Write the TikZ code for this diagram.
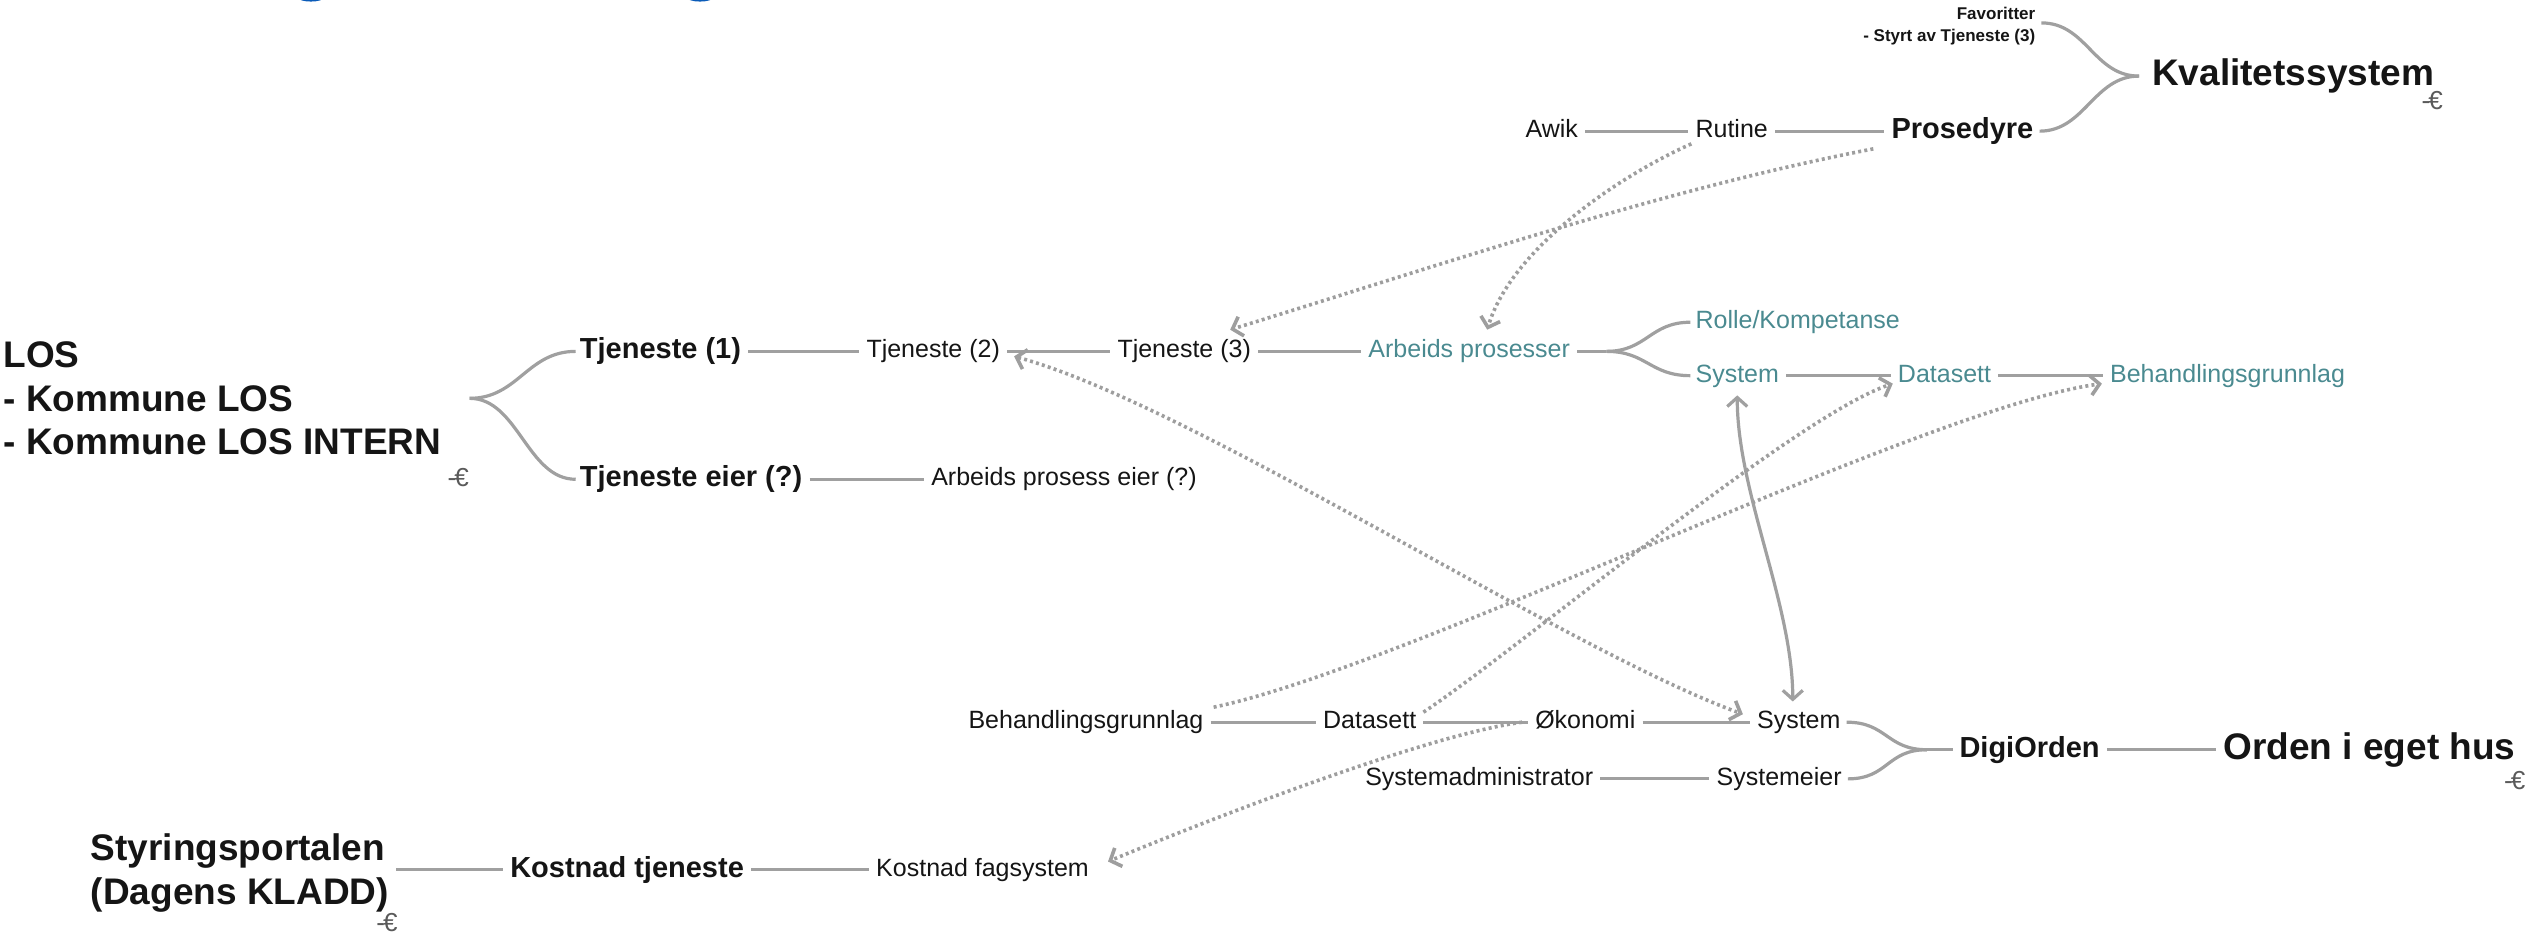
\documentclass[tikz,border=0pt]{standalone}
\usepackage{fontspec}
\setmainfont{Liberation Sans}
\usetikzlibrary{arrows.meta}
\definecolor{txt}{HTML}{151515}
\definecolor{tealc}{HTML}{4A8A90}
\definecolor{lc}{HTML}{A0A0A0}
\definecolor{dc}{HTML}{9E9E9E}
\definecolor{bluet}{HTML}{0A5BB8}
\definecolor{foldc}{HTML}{5A5A5A}
\tikzset{
  nd/.style={inner sep=0pt, anchor=west},
  reg/.style={nd, font=\fontsize{25}{30}\selectfont, text=txt, text height=18pt, text depth=5pt},
  tl/.style={reg, text=tealc},
  mid/.style={nd, font=\bfseries\fontsize{29}{34}\selectfont, text=txt, text height=21pt, text depth=6pt},
  big/.style={nd, align=left, font=\bfseries\fontsize{37}{43.5}\selectfont, text=txt},
  fav/.style={inner sep=0pt, anchor=east, align=right, font=\bfseries\fontsize{17}{22}\selectfont, text=txt},
  fold/.style={inner sep=0pt, font=\fontsize{26}{26}\selectfont, text=foldc},
  tree/.style={draw=lc, line width=3.2pt},
  gap/.style={shorten <=7pt, shorten >=7pt},
  rel/.style={draw=dc, line width=3.6pt, dash pattern=on 3pt off 3.2pt,
    -{Straight Barb[length=9pt,width=20pt]}},
  reltwo/.style={draw=dc, line width=3.6pt, dash pattern=on 3pt off 3.2pt,
    {Straight Barb[length=9pt,width=20pt]}-{Straight Barb[length=9pt,width=20pt]}},
  solidtwo/.style={tree, {Straight Barb[length=9pt,width=20pt]}-{Straight Barb[length=9pt,width=20pt]}}
}
\begin{document}
\begin{tikzpicture}[x=1.61926pt, y=-1.61926pt]
\useasboundingbox (0,0) rectangle (1568,576.2);
% cut-off title remnants
\fill[bluet] (192,-1.5) ellipse [x radius=13pt, y radius=4pt];
\fill[bluet] (432.3,-1.5) ellipse [x radius=13pt, y radius=4pt];

% nodes
\node[big] (los) at (2,246) {LOS\\- Kommune LOS\\- Kommune LOS INTERN};
\node[mid] (t1) at (358,217) {Tjeneste (1)};
\node[mid] (teier) at (358,296) {Tjeneste eier (?)};
\node[reg] (t2) at (535,217) {Tjeneste (2)};
\node[reg] (t3) at (690,217) {Tjeneste (3)};
\node[tl] (ap) at (845,217) {Arbeids prosesser};
\node[tl] (rk) at (1047,199) {Rolle/Kompetanse};
\node[tl] (syst) at (1047,232) {System};
\node[tl] (dst) at (1172,232) {Datasett};
\node[tl] (bgt) at (1303,232) {Behandlingsgrunnlag};
\node[reg] (ape) at (575,296) {Arbeids prosess eier (?)};
\node[reg] (awik) at (942,81) {Awik};
\node[reg] (rut) at (1047,81) {Rutine};
\node[mid] (pros) at (1168,81) {Prosedyre};
\node[fav] (fav) at (1257,16) {Favoritter\\- Styrt av Tjeneste (3)};
\node[big] (kval) at (1329,47) {Kvalitetssystem};
\node[reg] (bgb) at (598,446) {Behandlingsgrunnlag};
\node[reg] (dsb) at (817,446) {Datasett};
\node[reg] (oko) at (948,446) {Økonomi};
\node[reg] (sysb) at (1085,446) {System};
\node[reg] (sadm) at (843,481) {Systemadministrator};
\node[reg] (seier) at (1060,481) {Systemeier};
\node[mid] (digi) at (1210,463) {DigiOrden};
\node[big] (orden) at (1373,463) {Orden i eget hus};
\node[big] (styr) at (56,539) {Styringsportalen\\(Dagens KLADD)};
\node[mid] (kt) at (315,537) {Kostnad tjeneste};
\node[reg] (kf) at (541,537) {Kostnad fagsystem};

% fold marks
\node[fold] (f1) at (1502,62) {-\kern-2pt€};
\node[fold] (f2) at (283,295) {-\kern-2pt€};
\node[fold] (f3) at (1553,482) {-\kern-2pt€};
\node[fold] (f4) at (239,570) {-\kern-2pt€};

% tree lines
\draw[tree,gap] (t1.east) -- (t2.west);
\draw[tree,gap] (t2.east) -- (t3.west);
\draw[tree,gap] (t3.east) -- (ap.west);
\draw[tree,gap] (syst.east) -- (dst.west);
\draw[tree,gap] (dst.east) -- (bgt.west);
\draw[tree,gap] (teier.east) -- (ape.west);
\draw[tree,gap] (awik.east) -- (rut.west);
\draw[tree,gap] (rut.east) -- (pros.west);
\draw[tree,gap] (bgb.east) -- (dsb.west);
\draw[tree,gap] (dsb.east) -- (oko.west);
\draw[tree,gap] (oko.east) -- (sysb.west);
\draw[tree,gap] (sadm.east) -- (seier.west);
\draw[tree,gap] (digi.east) -- (digi.east -| orden.west);
\draw[tree,gap] (kt.west -| styr.east) -- (kt.west);
\draw[tree,gap] (kt.east) -- (kf.west);

% braces
\coordinate (h1) at (290,246);
\draw[tree] (h1) .. controls +(30,0) and +(-30,0) .. ([xshift=-4pt]t1.west);
\draw[tree] (h1) .. controls +(30,0) and +(-30,0) .. ([xshift=-4pt]teier.west);

\coordinate (h2) at (1321,47);
\draw[tree] (h2) .. controls +(-28,0) and +(28,0) .. ([xshift=6pt,yshift=3pt]fav.east);
\draw[tree] (h2) .. controls +(-28,0) and +(28,0) .. ([xshift=6pt]pros.east);

\coordinate (h3) at (992,217);
\draw[tree] ([xshift=7pt]ap.east) -- (h3);
\draw[tree] (h3) .. controls +(25,0) and +(-25,0) .. ([xshift=-5pt]rk.west);
\draw[tree] (h3) .. controls +(25,0) and +(-25,0) .. ([xshift=-5pt]syst.west);

\coordinate (h4) at (1190,463);
\draw[tree] (h4) -- ([xshift=-6pt]digi.west);
\draw[tree] (h4) .. controls +(-25,0) and +(25,0) .. ([xshift=6pt]sysb.east);
\draw[tree] (h4) .. controls +(-25,0) and +(25,0) .. ([xshift=6pt]seier.east);

% solid two-way link between the two System topics
\draw[solidtwo] ([yshift=-8pt]syst.south) .. controls +(0,60) and +(0,-60) .. ([xshift=-6pt,yshift=9pt]sysb.north);

% dotted relations
\draw[rel] ([xshift=-4pt,yshift=-1pt]rut.south west) .. controls +(-45,20) and +(15,-50) .. ([xshift=18pt,yshift=10pt]ap.north);
\draw[rel] ([xshift=-18pt,yshift=-4pt]pros.south west) .. controls +(-130,25) and +(130,-40) .. ([xshift=46pt,yshift=10pt]t3.north);
\draw[reltwo] ([xshift=14pt,yshift=-5pt]t2.east) .. controls +(110,30) and +(-110,-40) .. ([xshift=-14pt,yshift=8pt]sysb.west);
\draw[rel] ([xshift=7pt,yshift=10pt]dsb.east) .. controls +(60,-40) and +(-60,20) .. ([xshift=-5pt,yshift=-8pt]dst.west);
\draw[rel] ([xshift=10pt,yshift=15pt]bgb.east) .. controls +(120,-25) and +(-110,15) .. ([xshift=-8pt,yshift=-8pt]bgt.west);
\draw[rel] ([xshift=-13pt]oko.west) .. controls +(-60,8) and +(60,-25) .. ([xshift=19pt,yshift=8pt]kf.east);
\end{tikzpicture}
\end{document}
